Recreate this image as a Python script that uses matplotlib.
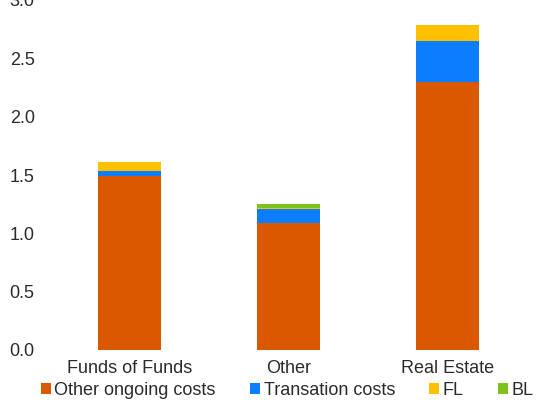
import matplotlib
matplotlib.use("Agg")
import matplotlib.pyplot as plt
import numpy as np

plt.rcParams['font.family'] = ['Liberation Sans', 'DejaVu Sans']

categories = ["Funds of Funds", "Other", "Real Estate"]
other_ongoing = [1.49, 1.09, 2.30]
transaction = [0.045, 0.12, 0.35]
fl = [0.075, 0.01, 0.14]
bl = [0.0, 0.03, 0.0]

series = [
    ("Other ongoing costs", other_ongoing, "#DA5900"),
    ("Transation costs", transaction, "#0A7EFF"),
    ("FL", fl, "#FFC000"),
    ("BL", bl, "#7DC31A"),
]

text_color = "#2b2b2b"

fig = plt.figure(figsize=(5.37, 4.0), dpi=100)
ax = fig.add_axes([0.093, 0.125, 0.888, 0.875])

x = np.arange(len(categories))
bottom = np.zeros(len(categories))
handles = []
for name, vals, color in series:
    vals = np.array(vals)
    b = ax.bar(x, vals, width=0.4, bottom=bottom, color=color, label=name,
               linewidth=0)
    handles.append(b)
    bottom += vals

ax.set_xlim(-0.5, 2.5)
ax.set_ylim(0, 3.0)
ax.set_yticks(np.arange(0, 3.01, 0.5))
ax.set_yticklabels([f"{v:.1f}" for v in np.arange(0, 3.01, 0.5)])
ax.set_xticks(x)
ax.set_xticklabels(categories)
ax.tick_params(axis='both', length=0, labelsize=13, colors=text_color)
ax.tick_params(axis='y', pad=11)
ax.tick_params(axis='x', pad=7)
for s in ax.spines.values():
    s.set_visible(False)

fig.legend(handles=handles, labels=[s[0] for s in series], loc='lower center',
           bbox_to_anchor=(0.535, -0.038), ncol=4, frameon=False, fontsize=13,
           handlelength=0.55, handleheight=0.55, handletextpad=0.2,
           columnspacing=1.9, labelcolor=text_color)

fig.savefig("out.png", dpi=100)
